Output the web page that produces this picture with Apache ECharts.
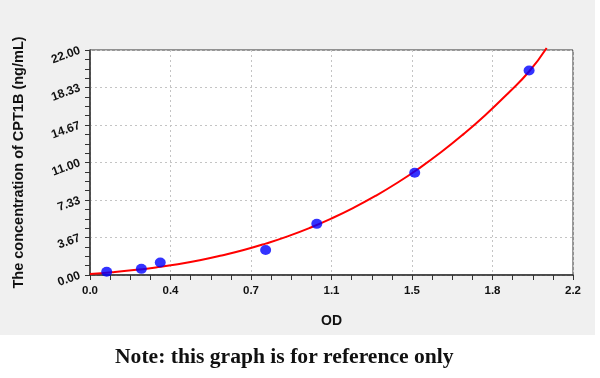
<!DOCTYPE html>
<html><head><meta charset="utf-8">
<script src="https://cdn.jsdelivr.net/npm/echarts@6/dist/echarts.min.js"></script>
<style>html,body{margin:0;padding:0;background:#fff}#c{width:600px;height:378px}</style>
</head><body><div id="c"></div>
<script>
// Standard points (OD, concentration)
const pointOD = [0.076, 0.234, 0.32, 0.80, 1.033, 1.479, 2.0];
const pointConc = [0.31, 0.6, 1.22, 2.45, 5.0, 10.0, 20.0];
// Fitted curve
const curveOD = [0, 0.1, 0.2, 0.3, 0.4, 0.5, 0.6, 0.7, 0.8, 0.9, 1.0, 1.1, 1.2, 1.3, 1.4, 1.5, 1.6, 1.7, 1.8, 1.9, 2.0, 2.08];
const curveConc = [0.10, 0.27, 0.48, 0.74, 1.05, 1.44, 1.91, 2.44, 3.07, 3.78, 4.6, 5.53, 6.57, 7.73, 9.02, 10.45, 12.02, 13.75, 15.63, 17.68, 19.9, 22.2];
const xMin = 0, xMax = 2.2, xStep = 2.2 / 6;
const yMin = 0, yMax = 22, yStep = 22 / 6;
const yTitle = 'The concentration of CPT1B (ng/mL)';
const xTitle = 'OD';
const note = 'Note: this graph is for reference only';

const chart = echarts.init(document.getElementById('c'));
const axisCol = '#333';
const sans = 'Liberation Sans, Arial, sans-serif';
chart.setOption({
  backgroundColor: '#ffffff',
  animation: false,
  graphic: [
    {type: 'rect', z: -10, shape: {x: 0, y: 0, width: 595, height: 335}, style: {fill: '#f0f0f0'}},
    {type: 'text', left: 115, top: 346, style: {text: note, font: 'bold 21.6px "Liberation Serif", "DejaVu Serif", serif', fill: '#111'}}
  ],
  grid: {left: 90, right: 27, top: 50, bottom: 103, show: true, backgroundColor: '#ffffff', borderColor: axisCol, borderWidth: 1},
  xAxis: {
    type: 'value', min: xMin, max: xMax, interval: xStep,
    name: xTitle, nameLocation: 'middle', nameGap: 39,
    nameTextStyle: {fontFamily: sans, fontWeight: 'bold', fontSize: 14, color: '#111'},
    axisLine: {show: true, lineStyle: {color: axisCol, width: 1.5}},
    axisTick: {show: true, inside: false, length: 5, lineStyle: {color: axisCol}},
    minorTick: {show: true, splitNumber: 4, length: 5, lineStyle: {color: axisCol}},
    axisLabel: {margin: 10, fontFamily: sans, fontWeight: 'bold', fontSize: 11.5, color: '#111',
      formatter: v => v.toFixed(1)},
    splitLine: {show: true, lineStyle: {color: '#c4c4c4', type: [2, 3], width: 1}}
  },
  yAxis: {
    type: 'value', min: yMin, max: yMax, interval: yStep,
    name: yTitle, nameLocation: 'middle', nameGap: 64,
    nameTextStyle: {fontFamily: sans, fontWeight: 'bold', fontSize: 14.5, color: '#111'},
    axisLine: {show: true, lineStyle: {color: axisCol, width: 1.5}},
    axisTick: {show: true, inside: false, length: 5, lineStyle: {color: axisCol}},
    minorTick: {show: true, splitNumber: 4, length: 5, lineStyle: {color: axisCol}},
    axisLabel: {margin: 10, rotate: 20, fontFamily: sans, fontWeight: 'bold', fontSize: 12, color: '#111',
      formatter: v => v.toFixed(2)},
    splitLine: {show: true, lineStyle: {color: '#c4c4c4', type: [2, 3], width: 1}}
  },
  series: [
    {type: 'line', data: curveOD.map((x, i) => [x, curveConc[i]]), smooth: true, showSymbol: false, clip: false,
      lineStyle: {color: '#ff0000', width: 2}, z: 2},
    {type: 'scatter', data: pointOD.map((x, i) => [x, pointConc[i]]), symbol: 'circle', symbolSize: [11, 10],
      itemStyle: {color: '#0000ff'}, z: 3}
  ]
});
</script></body></html>
